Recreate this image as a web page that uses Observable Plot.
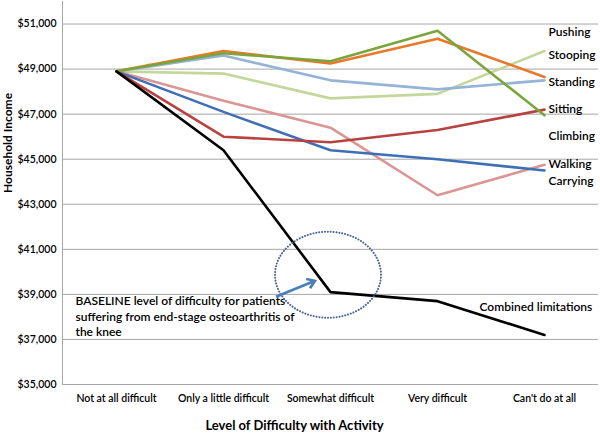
<!DOCTYPE html>
<html><head><meta charset="utf-8">
<script src="https://cdn.jsdelivr.net/npm/d3@7"></script>
<script src="https://cdn.jsdelivr.net/npm/@observablehq/plot@0.6"></script>
<style>
body{margin:0;background:#fff;}
#chart svg{display:block;font-family:Lato,"Open Sans",sans-serif;}
</style>
</head><body><div id="chart"></div>
<script>
// Categories (x axis)
const categories = ["Not at all difficult", "Only a little difficult", "Somewhat difficult", "Very difficult", "Can't do at all"];

// Series values (household income, $)
const pushing  = [48900, 48800, 47700, 47900, 49800];
const stooping = [48900, 49800, 49250, 50350, 48650];
const standing = [48900, 49600, 48500, 48100, 48500];
const sitting  = [48900, 46000, 45750, 46300, 47200];
const climbing = [48900, 49700, 49350, 50700, 46950];
const walking  = [48900, 47600, 46400, 43400, 44750];
const carrying = [48900, 47100, 45400, 45000, 44500];
const combined = [48900, 45400, 39100, 38700, 37200];

const seriesNames  = ["Pushing", "Walking", "Carrying", "Sitting", "Standing", "Stooping", "Climbing", "Combined limitations"];
const seriesValues = [pushing, walking, carrying, sitting, standing, stooping, climbing, combined];
const seriesColors = ["#c4d79b", "#d99694", "#3f70b5", "#b8423f", "#95b3d7", "#e8792c", "#7aa53c", "#000000"];

// Right-hand label texts and the income level where each sits
const labelNames  = ["Pushing", "Stooping", "Standing", "Sitting", "Climbing", "Walking", "Carrying"];
const labelIncome = [50630, 49620, 48410, 47210, 46040, 44760, 44040];
const combinedLabelIncome = 38440;

// Annotation
const annotationText = "BASELINE level of difficulty for patients\nsuffering from end-stage osteoarthritis of\nthe knee";
const annotationIncome = 39010;
const ellipseIncome = 39850;
const arrowFromIncome = 38870;
const arrowToIncome = 39580;

// Y ticks
const yTicks = [35000, 37000, 39000, 41000, 43000, 45000, 47000, 49000, 51000];

const rows = seriesNames.flatMap((name, i) =>
  categories.map((level, j) => ({series: name, level, income: seriesValues[i][j]})));

const labelRows = labelNames.map((t, i) => ({t, income: labelIncome[i]}));

const fmt = d3.format("$,.0f");
const NS = "http://www.w3.org/2000/svg";

function annotationShapes(index, scales) {
  const g = document.createElementNS(NS, "g");
  const cx = scales.x(categories[2]);
  const e = document.createElementNS(NS, "ellipse");
  e.setAttribute("cx", cx - 2);
  e.setAttribute("cy", scales.y(ellipseIncome));
  e.setAttribute("rx", 53);
  e.setAttribute("ry", 43);
  e.setAttribute("fill", "none");
  e.setAttribute("stroke", "#4a6596");
  e.setAttribute("stroke-width", 2);
  e.setAttribute("stroke-dasharray", "0.1 2.8");
  e.setAttribute("stroke-linecap", "round");
  g.appendChild(e);
  const x1 = cx - 54, y1 = scales.y(arrowFromIncome);
  const x2 = cx - 15, y2 = scales.y(arrowToIncome);
  const a = Math.atan2(y2 - y1, x2 - x1);
  const L = 9, w = 0.6;
  const p = document.createElementNS(NS, "path");
  p.setAttribute("d",
    `M${x1},${y1}L${x2},${y2}` +
    `M${x2 - L * Math.cos(a - w)},${y2 - L * Math.sin(a - w)}L${x2},${y2}L${x2 - L * Math.cos(a + w)},${y2 - L * Math.sin(a + w)}`);
  p.setAttribute("fill", "none");
  p.setAttribute("stroke", "#4a7ebb");
  p.setAttribute("stroke-width", 2.6);
  p.setAttribute("stroke-linejoin", "miter");
  g.appendChild(p);
  return g;
}

const chart = Plot.plot({
  width: 600,
  height: 437,
  marginLeft: 62,
  marginRight: 2,
  marginTop: 1,
  marginBottom: 53,
  style: {fontFamily: "Lato, 'Open Sans', sans-serif", background: "#fff", color: "#000"},
  x: {type: "point", domain: categories, padding: 0.5, label: null, axis: null},
  y: {domain: [35000, 52000], label: null, axis: null},
  color: {domain: seriesNames, range: seriesColors},
  marks: [
    Plot.ruleY(yTicks, {stroke: "#a6a6a6", strokeWidth: 1}),
    Plot.frame({anchor: "left", stroke: "#a6a6a6"}),
    Plot.axisY({ticks: yTicks, tickFormat: fmt, tickSize: 0, tickPadding: 6, fontSize: 10.5, fontWeight: 600, label: null}),
    Plot.axisX({tickSize: 0, tickPadding: 10, fontSize: 10.5, fontWeight: 600, label: null}),
    Plot.line(rows, {x: "level", y: "income", z: "series", stroke: "series", strokeWidth: 2.6, strokeLinejoin: "round"}),
    Plot.text(labelRows, {x: () => categories[4], y: "income", text: "t", textAnchor: "start", dx: 4, fontSize: 12, fontWeight: 600}),
    Plot.text(["Combined limitations"], {x: () => categories[4], y: () => combinedLabelIncome, text: d => d, textAnchor: "start", dx: -65, fontSize: 12, fontWeight: 600}),
    Plot.text([annotationText], {x: () => categories[0], y: () => annotationIncome, text: d => d, textAnchor: "start", lineAnchor: "top", dx: -41, fontSize: 12, lineHeight: 1.3, fontWeight: 600}),
    annotationShapes,
    Plot.text(["Household Income"], {frameAnchor: "left", dx: -54, rotate: -90, text: d => d, fontSize: 12, fontWeight: "bold"}),
    Plot.text(["Level of Difficulty with Activity"], {frameAnchor: "bottom-left", dx: 232, dy: 45, text: d => d, fontSize: 13, fontWeight: "bold", textAnchor: "middle"})
  ]
});
document.getElementById("chart").appendChild(chart);
</script>
</body></html>
